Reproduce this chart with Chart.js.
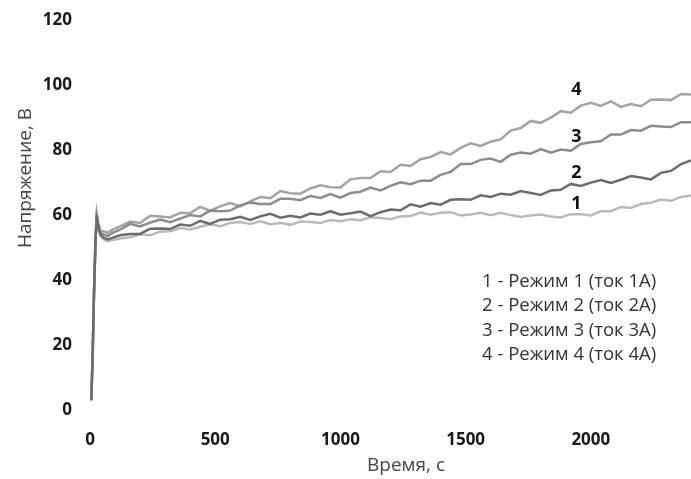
<!DOCTYPE html>
<html>
<head>
<meta charset="utf-8">
<script src="https://cdn.jsdelivr.net/npm/chart.js@4"></script>
<style>
  html, body { margin: 0; padding: 0; background: #fff; }
  canvas { display: block; }
</style>
</head>
<body>
<canvas id="chart" width="691" height="479"></canvas>
<script>
// time, s
const times = [5, 10, 16, 22, 27, 33, 42, 55, 70, 90, 120,
  160, 200, 240, 280, 320, 360, 400, 440, 480, 520, 560, 600, 640, 680, 720, 760, 800,
  840, 880, 920, 960, 1000, 1040, 1080, 1120, 1160, 1200, 1240, 1280, 1320, 1360, 1400,
  1440, 1480, 1520, 1560, 1600, 1640, 1680, 1720, 1760, 1800, 1840, 1880, 1920, 1960,
  2000, 2040, 2080, 2120, 2160, 2200, 2240, 2280, 2320, 2360, 2400];

// voltage, V — one array per mode
const mode1 = [3, 15, 36, 52, 60, 56, 53.5, 52.5, 52, 52.3, 52.8,
  53.2, 54.1, 53.8, 54.9, 55.0, 56.0, 55.6, 56.4, 57.2, 56.6, 57.6, 57.9, 57.3, 58.1, 57.2, 57.6, 57.0,
  58.0, 57.9, 57.6, 58.5, 58.1, 58.7, 58.4, 59.3, 59.1, 58.7, 59.6, 59.7, 60.8, 60.1, 60.7,
  60.9, 59.9, 60.2, 60.7, 60.0, 60.7, 60.0, 59.4, 59.9, 60.2, 59.6, 59.3, 60.3, 60.3,
  59.9, 61.2, 61.2, 62.5, 62.2, 63.4, 63.8, 64.8, 64.4, 65.6, 66.0];
const mode2 = [3, 15, 36, 52, 60, 56.5, 54, 53, 52.5, 53, 53.8,
  54.2, 54.2, 55.8, 55.9, 55.7, 57.1, 56.7, 58.2, 57.3, 58.6, 58.7, 59.5, 58.5, 59.6, 60.4, 59.2, 59.8,
  59.3, 60.5, 60.1, 61.2, 60.1, 60.6, 61.1, 59.7, 60.9, 61.7, 61.5, 63.3, 62.6, 63.7, 63.2,
  64.7, 64.9, 64.7, 66.1, 65.6, 66.6, 66.3, 67.4, 66.8, 66.2, 67.6, 67.8, 69.6, 69.0,
  70.0, 70.8, 69.9, 70.9, 72.0, 71.6, 71.0, 73.0, 73.6, 75.7, 76.8];
const mode3 = [3, 15, 36, 52, 60, 57, 54.5, 54, 53.5, 54.5, 55.5,
  57.3, 56.5, 57.7, 58.6, 57.8, 58.9, 60.0, 59.6, 61.4, 61.2, 61.4, 63.0, 63.9, 63.4, 63.4, 65.0, 65.0,
  64.6, 65.9, 65.3, 66.5, 65.4, 66.8, 67.2, 68.5, 67.6, 69.0, 70.1, 69.5, 70.6, 70.6, 72.4,
  73.3, 75.7, 75.7, 77.0, 77.4, 76.4, 78.6, 79.3, 78.9, 80.3, 79.2, 80.2, 79.8, 81.9,
  82.4, 82.7, 84.8, 84.8, 86.2, 86.0, 87.5, 87.3, 87.1, 88.6, 88.6];
const mode4 = [3, 15, 36, 52, 60, 57.5, 55, 55, 54.5, 55.5, 56.5,
  58.0, 57.6, 59.8, 59.6, 59.3, 60.7, 60.6, 62.5, 61.4, 62.7, 63.7, 62.7, 64.2, 65.6, 65.2, 67.4, 66.7,
  66.6, 68.2, 69.2, 68.6, 68.5, 71.0, 71.4, 71.4, 73.5, 73.3, 75.5, 75.1, 77.2, 77.9, 79.4,
  78.7, 80.7, 82.1, 81.3, 82.6, 83.3, 86.0, 86.8, 89.0, 88.4, 90.0, 92.0, 91.5, 93.7,
  94.6, 93.6, 95.0, 93.3, 94.2, 93.5, 95.5, 95.6, 95.4, 97.3, 97.1];

const xTickValues = [0, 500, 1000, 1500, 2000];
const curveTags = ['1', '2', '3', '4'];
const curveTagPos = [[1942, 63.4], [1942, 72.9], [1942, 84.2], [1942, 98.6]];
const legendLines = [
  '1 - Режим 1 (ток 1А)',
  '2 - Режим 2 (ток 2А)',
  '3 - Режим 3 (ток 3А)',
  '4 - Режим 4 (ток 4А)'
];
const xTitle = 'Время, с';
const yTitle = 'Напряжение, В';

const colors = ['#bababa', '#6c6c6c', '#8c8c8c', '#a4a4a4'];
const series = [mode1, mode2, mode3, mode4];
const drawOrder = [4, 1, 2, 3]; // lower = on top

const textPlugin = {
  id: 'texts',
  afterDatasetsDraw(chart) {
    const { ctx, scales: { x, y } } = chart;
    ctx.save();
    ctx.fillStyle = '#111';
    ctx.font = 'bold 18px "Open Sans"';
    ctx.textAlign = 'center';
    ctx.textBaseline = 'middle';
    curveTags.forEach((t, i) => {
      const [tx, ty] = curveTagPos[i];
      ctx.fillText(t, x.getPixelForValue(tx), y.getPixelForValue(ty));
    });

    ctx.fillStyle = '#333';
    ctx.font = '18.5px "Open Sans"';
    ctx.textAlign = 'left';
    legendLines.forEach((l, i) => ctx.fillText(l, 482, 282 + i * 24.2));

    ctx.fillStyle = '#444';
    ctx.font = '19px "Open Sans"';
    ctx.textAlign = 'center';
    ctx.fillText(xTitle, 406, 466);
    ctx.translate(26, 178);
    ctx.rotate(-Math.PI / 2);
    ctx.fillText(yTitle, 0, 0);
    ctx.restore();
  }
};

new Chart(document.getElementById('chart'), {
  type: 'line',
  data: {
    datasets: series.map((s, i) => ({
      label: legendLines[i],
      data: times.map((t, j) => ({ x: t, y: s[j] })),
      borderColor: colors[i],
      borderWidth: 2.5,
      pointRadius: 0,
      tension: 0,
      order: drawOrder[i]
    }))
  },
  options: {
    responsive: false,
    animation: false,
    layout: { padding: { top: 18, right: 0, bottom: 0, left: 0 } },
    plugins: { legend: { display: false }, tooltip: { enabled: false } },
    scales: {
      x: {
        type: 'linear',
        min: 0,
        max: 2400,
        grid: { display: false },
        border: { display: false },
        afterBuildTicks: (scale) => { scale.ticks = xTickValues.map(v => ({ value: v })); },
        afterFit: (scale) => { scale.height = 69; },
        ticks: {
          maxRotation: 0,
          padding: 12,
          color: '#1a1a1a',
          font: { family: 'Open Sans', size: 17, weight: 'bold' },
          callback: (v) => String(v)
        }
      },
      y: {
        min: 0,
        max: 120,
        grid: { display: false },
        border: { display: false },
        afterFit: (scale) => { scale.width = 90; },
        ticks: {
          stepSize: 20,
          padding: 10,
          color: '#1a1a1a',
          font: { family: 'Open Sans', size: 17, weight: 'bold' }
        }
      }
    }
  },
  plugins: [textPlugin]
});
</script>
</body>
</html>
